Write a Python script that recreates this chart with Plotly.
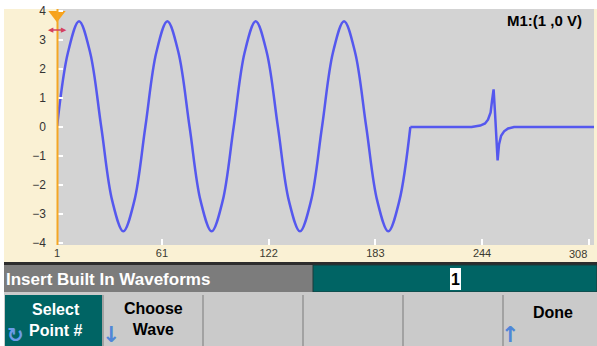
import plotly.graph_objects as go

# waveform: sample index -> volts
sine_x = [1, 7.3, 13.6, 19.9, 26.3, 32.6, 38.9, 45.2, 51.5, 57.8, 64.1, 70.4,
          76.8, 83.1, 89.4, 95.7, 102, 108.3, 114.6, 120.9, 127.3, 133.6, 139.9,
          146.2, 152.5, 158.8, 165.1, 171.4, 177.8, 184.1, 190.4, 196.7, 203]
sine_y = [0, 2.58, 3.65, 2.58, 0, -2.55, -3.6, -2.55, 0, 2.58, 3.65, 2.58,
          0, -2.55, -3.6, -2.55, 0, 2.58, 3.65, 2.58, 0, -2.55, -3.6,
          -2.55, 0, 2.58, 3.65, 2.58, 0, -2.55, -3.6, -2.55, 0]
tail_x = [203, 238, 243, 245.7, 247.4, 248.9, 249.7, 250.6, 251.4, 252, 252.9,
          253.7, 254.9, 256.6, 258.9, 262.3, 308]
tail_y = [0, 0, 0.05, 0.12, 0.25, 0.5, 0.9, 1.3, 0.5, -0.3, -1.15,
          -0.6, -0.3, -0.15, -0.05, 0, 0]

x_ticks = [1, 61, 122, 183, 244, 305]
x_labels = ["1", "61", "122", "183", "244", ""]
y_ticks = [-4, -3, -2, -1, 0, 1, 2, 3, 4]
last_label = "308"
marker_text = "M1:(1 ,0 V)"

W, H = 597, 346
L, R, T, B = 57, 594, 9, 245


def px(x):
    return (x - L) / (R - L)


def py(y):
    return (B - y) / (B - T)


def box(x0, y0, x1, y1, color, line=None):
    return dict(type="rect", xref="paper", yref="paper", layer="below",
                x0=px(x0), x1=px(x1), y0=py(y1), y1=py(y0),
                fillcolor=color, line=line or dict(width=0))


def vline(x, y0, y1, color, width=2):
    return dict(type="line", xref="paper", yref="paper",
                x0=px(x), x1=px(x), y0=py(y1), y1=py(y0),
                line=dict(color=color, width=width))


def label(x, y, text, color="black", size=16, anchor="center", family="Liberation Sans"):
    return dict(xref="paper", yref="paper", x=px(x), y=py(y), text=text,
                showarrow=False, xanchor=anchor, yanchor="middle",
                font=dict(family=family, size=size, color=color))


BLUE = "#5558ee"
TEAL = "#006464"

fig = go.Figure()
fig.add_trace(go.Scatter(x=sine_x, y=sine_y, mode="lines",
                         line=dict(color=BLUE, width=2.5, shape="spline", smoothing=1),
                         hoverinfo="skip"))
fig.add_trace(go.Scatter(x=tail_x, y=tail_y, mode="lines",
                         line=dict(color=BLUE, width=2.5), hoverinfo="skip"))
# cursor marker at point 1
fig.add_trace(go.Scatter(x=[1], y=[3.87], mode="markers", cliponaxis=False,
                         marker=dict(symbol="triangle-down", size=15, color="#f7a21c"),
                         hoverinfo="skip"))

shapes = [
    box(4, 9, 597, 262, "#faf1d4"),
    box(L, T, R, B, "#d3d3d3"),
    vline(L + 0.5, T, B, "#f5a623", 2),
    box(4, 262, 597, 265, "#2c2c2c"),
    box(4, 265, 313, 292, "#7c7c7c"),
    box(313, 265, 597, 292, TEAL, dict(color="#1d3b3b", width=1)),
    box(450, 268, 461, 290, "white"),
    box(4, 292, 597, 346, "#cacaca"),
    box(5, 295, 103, 346, TEAL),
    # red double arrow next to the cursor
    dict(type="line", xref="paper", yref="paper", x0=px(50), x1=px(64),
         y0=py(30), y1=py(30), line=dict(color="#d5405e", width=1.5)),
]
for sx in [103, 203, 303, 403, 503]:
    shapes.append(vline(sx, 295, 346, "#a2a2a2", 2))

annotations = [
    label(584, 21, "<b>" + marker_text + "</b>", size=15, anchor="right"),
    label(4, 279, "<b>Insert Built In Waveforms</b>", "white", 17, "left"),
    label(455.5, 279, "<b>1</b>", size=16),
    label(55, 320, "<b>Select<br>Point #</b>", "white", 16),
    label(153, 319, "<b>Choose<br>Wave</b>", size=16),
    label(553, 312, "<b>Done</b>", size=16),
    label(111, 335, "<b>↓</b>", "#4f86d8", 22, family="DejaVu Sans"),
    label(510, 335, "<b>↑</b>", "#4f86d8", 22, family="DejaVu Sans"),
    label(15, 335, "<b>↻</b>", "#6b9be8", 20, family="DejaVu Sans"),
    label(50.5, 30, "◀", "#d5405e", 7, family="DejaVu Sans"),
    label(63.5, 30, "▶", "#d5405e", 7, family="DejaVu Sans"),
    dict(x=305, y=0, xref="x", yref="paper", yshift=-9, text=last_label,
         showarrow=False, xanchor="right", yanchor="middle",
         font=dict(family="Liberation Sans", size=11, color="#3a3a30")),
]

fig.update_layout(
    width=W, height=H,
    margin=dict(l=L, r=W - R, t=T, b=H - B, pad=0),
    paper_bgcolor="white", plot_bgcolor="rgba(0,0,0,0)",
    showlegend=False,
    shapes=shapes, annotations=annotations,
    xaxis=dict(range=[1, 308], tickvals=x_ticks, ticktext=x_labels,
               ticks="inside", ticklen=6, tickwidth=1.5, tickcolor="white",
               showgrid=False, zeroline=False, showline=False,
               tickfont=dict(family="Liberation Sans", size=11, color="#3a3a30")),
    yaxis=dict(range=[-4.07, 4.07], tickvals=y_ticks,
               ticks="inside", ticklen=6, tickwidth=1.5, tickcolor="white",
               ticklabelstandoff=10,
               showgrid=False, zeroline=False, showline=False,
               tickfont=dict(family="Liberation Sans", size=12, color="#333333")),
)

fig.write_html("out.html", config=dict(displayModeBar=False),
               post_script="document.body.style.margin='0px';"
                           "document.body.style.overflow='hidden';")
